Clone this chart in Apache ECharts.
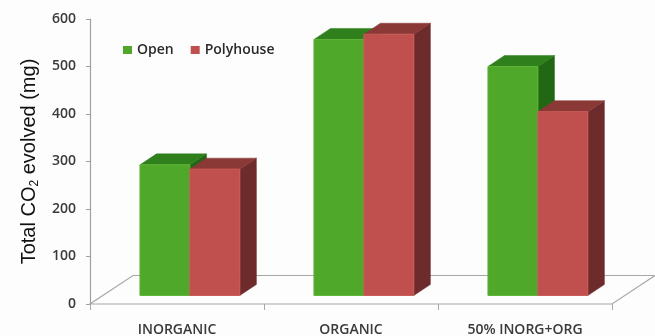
<!DOCTYPE html>
<html>
<head>
<meta charset="utf-8">
<script src="https://cdn.jsdelivr.net/npm/echarts@6/dist/echarts.min.js"></script>
<style>
html,body{margin:0;padding:0;background:#fdfdfd;}
#chart{width:655px;height:336px;}
</style>
</head>
<body>
<div id="chart"></div>
<script>
// ---- data ----
const categories = ['INORGANIC', 'ORGANIC', '50% INORG+ORG'];
const seriesNames = ['Open', 'Polyhouse'];
const openValues = [275, 539, 482];
const polyValues = [266, 550, 387];
const yMin = 0, yMax = 600, yStep = 100;

// ---- styles ----
const palettes = [
  { front: '#50a82b', top: '#2f801c', side: '#226714', edge: '#5cb336' },
  { front: '#c0504d', top: '#8a3937', side: '#6e2b2c', edge: '#c95a56' }
];
const FLOOR_DX = 43, FLOOR_DY = -28.5;   // depth of the 3D floor
const FRONT_FRAC = 0.30, DEPTH_FRAC = 0.385; // bar position inside floor depth
const BAR_FRAC = 0.287;                    // bar width as fraction of band

function barRenderer(sIdx) {
  const pal = palettes[sIdx];
  return function (params, api) {
    const cat = api.value(0), val = api.value(1);
    const base = api.coord([cat, yMin]);
    const top = api.coord([cat, val]);
    const band = api.size([1, 0])[0];
    const bw = band * BAR_FRAC;
    const ox = FLOOR_DX * FRONT_FRAC, oy = FLOOR_DY * FRONT_FRAC;
    const dx = FLOOR_DX * DEPTH_FRAC, dy = FLOOR_DY * DEPTH_FRAC;
    const x0 = base[0] + ox + (sIdx === 0 ? -bw : 0);
    const x1 = x0 + bw;
    const yb = base[1] + oy, yt = top[1] + oy;
    return {
      type: 'group',
      children: [
        { type: 'polygon', shape: { points: [[x1, yt], [x1 + dx, yt + dy], [x1 + dx, yb + dy], [x1, yb]] },
          style: { fill: pal.side, stroke: pal.side, lineWidth: 0.5 } },
        { type: 'polygon', shape: { points: [[x0, yt], [x1, yt], [x1 + dx, yt + dy], [x0 + dx, yt + dy]] },
          style: { fill: pal.top, stroke: pal.top, lineWidth: 0.5 } },
        { type: 'rect', shape: { x: x0, y: yt, width: bw, height: yb - yt },
          style: { fill: pal.front, stroke: pal.edge, lineWidth: 1 } }
      ]
    };
  };
}

function floorRenderer(params, api) {
  const cs = params.coordSys;
  const fl = [cs.x, cs.y + cs.height];
  const fr = [cs.x + cs.width, cs.y + cs.height];
  return {
    type: 'polygon',
    shape: { points: [fl, fr, [fr[0] + FLOOR_DX, fr[1] + FLOOR_DY], [fl[0] + FLOOR_DX, fl[1] + FLOOR_DY]] },
    style: { fill: 'rgba(0,0,0,0)', stroke: '#a8a8a8', lineWidth: 1.2 },
    silent: true
  };
}

const chart = echarts.init(document.getElementById('chart'), null, { renderer: 'canvas' });
chart.setOption({
  backgroundColor: '#fdfdfd',
  animation: false,
  grid: { left: 90, right: 43, top: 19, bottom: 32, containLabel: false, outerBoundsMode: 'none' },
  legend: {
    data: seriesNames,
    left: 118, top: 38,
    icon: 'rect', itemWidth: 9, itemHeight: 8, itemGap: 17,
    textStyle: { fontFamily: 'Open Sans', fontSize: 14, fontWeight: 600, color: '#2a2a2a' }
  },
  xAxis: {
    type: 'category',
    data: categories,
    axisLine: { show: false },
    axisTick: { show: true, length: 6, lineStyle: { color: '#a8a8a8' } },
    axisLabel: { margin: 19, fontFamily: 'Open Sans', fontSize: 14, fontWeight: 600, color: '#3a3a3a' },
    splitLine: { show: false }
  },
  yAxis: {
    type: 'value',
    min: yMin, max: yMax, interval: yStep,
    axisLine: { show: true, lineStyle: { color: '#a0a0a0', width: 1.2 } },
    axisTick: { show: true, length: 4, lineStyle: { color: '#a0a0a0' } },
    axisLabel: { margin: 14, fontFamily: 'Open Sans', fontSize: 14, fontWeight: 600, color: '#3a3a3a' },
    splitLine: { show: false },
    name: '{a|Total CO}{b|2}{a| evolved (mg)}',
    nameLocation: 'middle',
    nameRotate: 90,
    nameGap: 48,
    nameTextStyle: {
      rich: {
        a: { fontFamily: 'Liberation Sans', fontSize: 20, color: '#111', lineHeight: 24 },
        b: { fontFamily: 'Liberation Sans', fontSize: 12, color: '#111', lineHeight: 12, verticalAlign: 'bottom' }
      }
    }
  },
  series: [
    { type: 'custom', name: 'floor', silent: true, z: 1, renderItem: floorRenderer, data: [[0, 0]] },
    { type: 'custom', name: seriesNames[0], z: 2, itemStyle: { color: palettes[0].front },
      renderItem: barRenderer(0), data: categories.map((c, i) => [i, openValues[i]]) },
    { type: 'custom', name: seriesNames[1], z: 2, itemStyle: { color: palettes[1].front },
      renderItem: barRenderer(1), data: categories.map((c, i) => [i, polyValues[i]]) }
  ]
});
</script>
</body>
</html>
